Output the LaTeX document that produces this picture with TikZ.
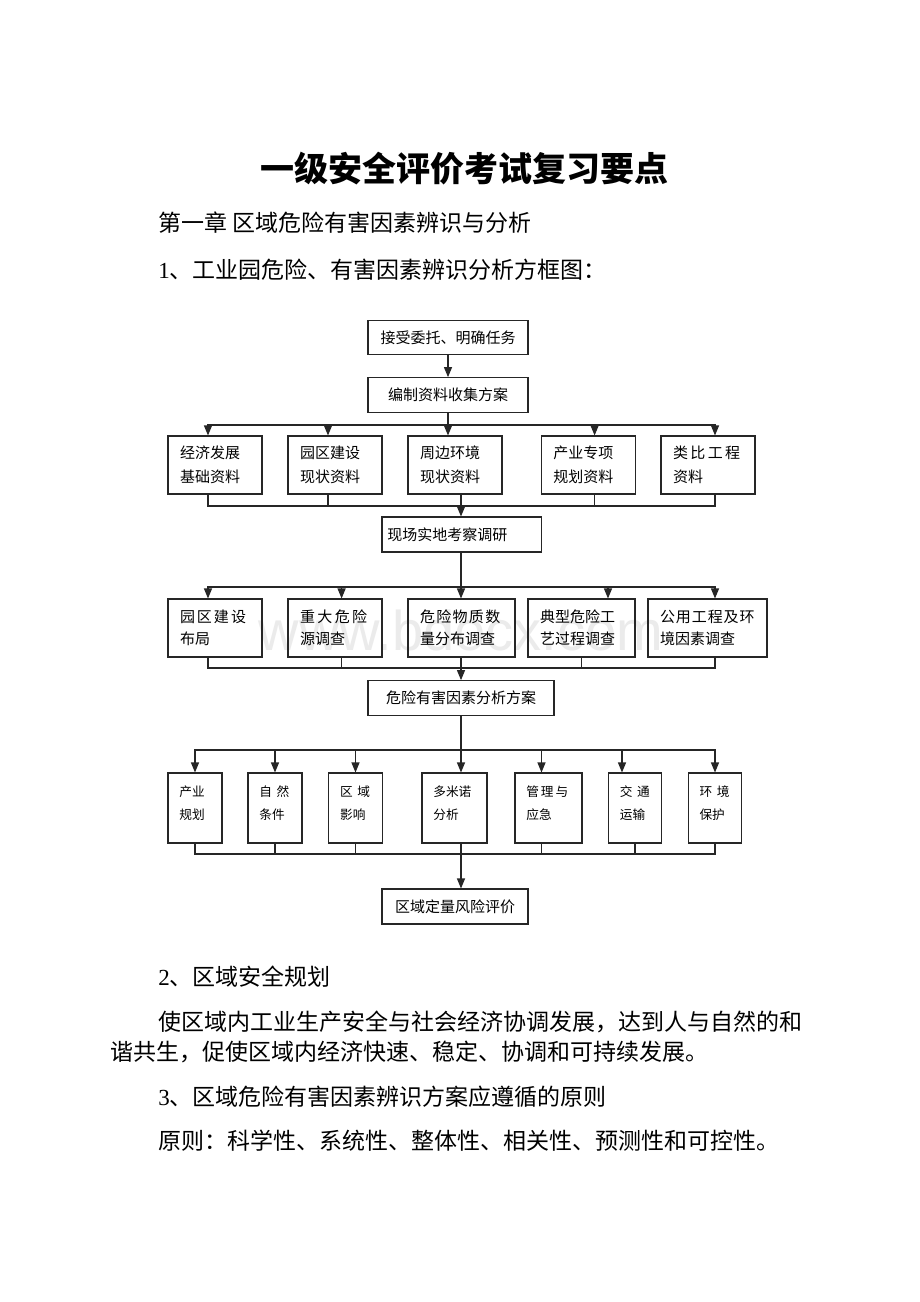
\documentclass[tikz,border=0pt]{standalone}
\usepackage{fontspec}
\setmainfont{Liberation Serif}
\newfontfamily\cjk{Noto Sans CJK SC}
\newfontfamily\wmfont{Liberation Sans}
\usetikzlibrary{arrows.meta,calc}
\newcommand\gp[1]{\hspace{#1pt}}
\newcommand\lowstrut{\rule[-8pt]{0pt}{8pt}}
\begin{document}
\begin{tikzpicture}[x=0.75pt,y=-0.75pt,
  ln/.style={line width=0.8pt, draw=black!85},
  arr/.style={ln, -{Triangle[length=7.5pt,width=6pt]}},
  sgl/.style={ln, rectangle, inner sep=0pt, minimum width=#1, minimum height=26pt,
    font=\cjk\fontsize{11.25}{14}\selectfont},
  rowA/.style={ln, rectangle, inner xsep=9pt, inner ysep=0pt, align=left,
    minimum width=70.5pt, text width=52.5pt, minimum height=43.5pt,
    font=\cjk\fontsize{11.25}{17.8}\selectfont},
  rowB/.style={ln, rectangle, inner xsep=9pt, inner ysep=0pt, align=left,
    minimum width=#1, text width=#1-18pt, minimum height=43.5pt,
    font=\cjk\fontsize{11.25}{16.5}\selectfont},
  rowC/.style={ln, rectangle, inner xsep=8.5pt, inner ysep=0pt, align=left,
    minimum width=#1, text width=#1-17pt, minimum height=52.5pt,
    font=\cjk\fontsize{9.5}{16.7}\selectfont},
  body/.style={anchor=west, inner sep=0pt, font=\cjk\fontsize{17.25}{20}\selectfont}
]
\fill[white] (0,0) rectangle (920,1302);
\useasboundingbox (0,0) rectangle (920,1302);

% watermark
\node[font=\wmfont\fontsize{42}{42}\selectfont, text=black!8, inner sep=0pt] (wm) at (461,630) {www.bdocx.com};

% title and text
\node[inner sep=0pt, font=\cjk\bfseries\fontsize{25.5}{30}\selectfont] (title) at (464,169) {一级安全评价考试复习要点};
\node[body] (t1) at (158,223) {第一章 区域危险有害因素辨识与分析};
\node[body] (t2) at (158,270) {{\rmfamily 1}、工业园危险、有害因素辨识分析方框图：};
\node[body] (t3) at (158,977) {{\rmfamily 2}、区域安全规划};
\node[body] (t4) at (158,1022) {使区域内工业生产安全与社会经济协调发展，达到人与自然的和};
\node[body] (t5) at (110,1052) {谐共生，促使区域内经济快速、稳定、协调和可持续发展。};
\node[body] (t6) at (158,1097) {{\rmfamily 3}、区域危险有害因素辨识方案应遵循的原则};
\node[body] (t7) at (158,1141) {原则：科学性、系统性、整体性、相关性、预测性和可控性。};

% single boxes
\node[sgl=120pt] (a1) at (448,337.5) {接受委托、明确任务};
\node[sgl=120pt] (a2) at (448,395) {编制资料收集方案};
\node[sgl=119.7pt, minimum height=26.25pt, align=left, text width=111.5pt, inner xsep=4pt] (x1) at (461.8,534.5) {现场实地考察调研};
\node[sgl=139.5pt] (h1) at (461,698) {危险有害因素分析方案};
\node[sgl=109.5pt, minimum height=26.25pt] (z1) at (455,906.5) {区域定量风险评价};

% row 1
\node[rowA] (c1) at (215,465) {经济发展\\基础资料};
\node[rowA] (c2) at (335,465) {园区建设\\现状资料};
\node[rowA] (c3) at (455,465) {周边环境\\现状资料};
\node[rowA] (c4) at (588.3,465) {产业专项\\规划资料};
\node[rowA] (c5) at (708,465) {类\gp{1.8}比\gp{1.8}工\gp{1.8}程\\资料};

% row 2
\node[rowB=70.5pt] (d1) at (215,628) {园\gp{1.5}区\gp{1.5}建\gp{1.5}设\\布局};
\node[rowB=70.5pt] (d2) at (335,628) {重\gp{1.8}大\gp{1.8}危\gp{1.8}险\\源调查};
\node[rowB=80.25pt] (d3) at (461.5,628) {危\gp{1}险\gp{1}物\gp{1}质\gp{1}数\\量分布调查};
\node[rowB=80.25pt] (d4) at (581.5,628) {典型危险工\\艺过程调查};
\node[rowB=89.25pt] (d5) at (707.5,628) {公\gp{0.7}用\gp{0.7}工\gp{0.7}程\gp{0.7}及\gp{0.7}环\\境因素调查};

% row 3
\node[rowC=40.5pt] (e1) at (195,808) {产业\\规划\lowstrut};
\node[rowC=40.5pt] (e2) at (275,808) {自\gp{3.5}然\\条件\lowstrut};
\node[rowC=40pt] (e3) at (355.5,808) {区\gp{3.5}域\\影响\lowstrut};
\node[rowC=48.75pt] (e4) at (454.5,808) {多米诺\\分析\lowstrut};
\node[rowC=50.25pt] (e5) at (548.5,808) {管\gp{1.5}理\gp{1.5}与\\应急\lowstrut};
\node[rowC=39.75pt] (e6) at (635,808) {交\gp{3.5}通\\运输\lowstrut};
\node[rowC=40.25pt] (e7) at (715,808) {环\gp{3.5}境\\保护\lowstrut};

% connectors: top
\draw[arr] (a1.south) -- (a2.north);
\coordinate (s1) at (448,425);
\draw[ln] (a2.south) -- (s1);
\draw[arr] (s1) -| ($(c1.north)+(-7,0)$);
\draw[arr] (s1) -| ($(c2.north)+(-7,0)$);
\draw[arr] (s1) -- ($(c3.north)+(-7,0)$);
\draw[arr] (s1) -| ($(c4.north)+(6.3,0)$);
\draw[arr] (s1) -| ($(c5.north)+(7,0)$);

% row 1 collector
\coordinate (j1) at (461,506);
\draw[ln] ($(c1.south)+(-7,0)$) |- (j1);
\draw[ln] ($(c2.south)+(-7,0)$) |- (j1);
\draw[ln] ($(c3.south)+(6,0)$) -- (j1);
\draw[ln] ($(c4.south)+(6.3,0)$) |- (j1);
\draw[ln] ($(c5.south)+(7,0)$) |- (j1);
\draw[arr] (j1) -- (j1 |- x1.north);

% row 2 distribution
\coordinate (s2) at (461,587);
\draw[ln] (s2 |- x1.south) -- (s2);
\draw[arr] (s2) -| ($(d1.north)+(-7,0)$);
\draw[arr] (s2) -| ($(d2.north)+(6.6,0)$);
\draw[arr] (s2) -- (s2 |- d3.north);
\draw[arr] (s2) -| ($(d4.north)+(26.5,0)$);
\draw[arr] (s2) -| ($(d5.north)+(7.5,0)$);

% row 2 collector
\coordinate (j2) at (461,668);
\draw[ln] ($(d1.south)+(-7,0)$) |- (j2);
\draw[ln] ($(d2.south)+(6.6,0)$) |- (j2);
\draw[ln] (j2 |- d3.south) -- (j2);
\draw[ln] (d4.south) |- (j2);
\draw[ln] ($(d5.south)+(7.5,0)$) |- (j2);
\draw[arr] (j2) -- (j2 |- h1.north);

% row 3 distribution
\coordinate (s3) at (461,750);
\draw[ln] (s3 |- h1.south) -- (s3);
\draw[arr] (s3) -| (e1.north);
\draw[arr] (s3) -| (e2.north);
\draw[arr] (s3) -| (e3.north);
\draw[arr] (s3) -- (s3 |- e4.north);
\draw[arr] (s3) -| ($(e5.north)+(-7,0)$);
\draw[arr] (s3) -| ($(e6.north)+(-13,0)$);
\draw[arr] (s3) -| (e7.north);

% row 3 collector
\coordinate (j3) at (461,854);
\draw[ln] (e1.south) |- (j3);
\draw[ln] (e2.south) |- (j3);
\draw[ln] (e3.south) |- (j3);
\draw[ln] (j3 |- e4.south) -- (j3);
\draw[ln] ($(e5.south)+(-7,0)$) |- (j3);
\draw[ln] (e6.south) |- (j3);
\draw[ln] (e7.south) |- (j3);
\draw[arr] (j3) -- (j3 |- z1.north);
\end{tikzpicture}
\end{document}
